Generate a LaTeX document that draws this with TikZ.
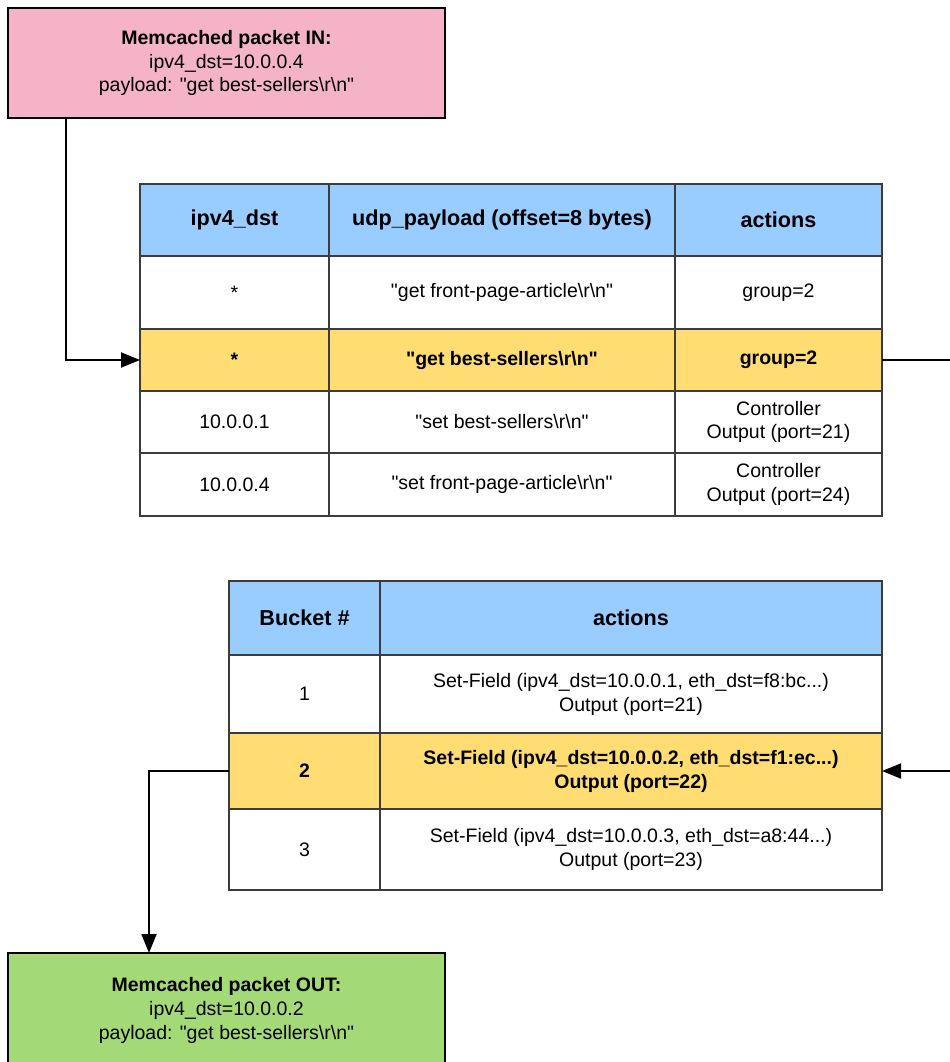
\documentclass[tikz,border=0pt]{standalone}
\usepackage{fontspec}
\newfontfamily\arialf{Liberation Sans}
\usetikzlibrary{arrows.meta,positioning,calc}
\definecolor{inpink}{RGB}{244,179,198}
\definecolor{outgreen}{RGB}{163,217,119}
\definecolor{headblue}{RGB}{153,204,255}
\definecolor{hitgold}{RGB}{255,221,115}
\definecolor{gridgray}{RGB}{60,60,60}
\newcommand{\crlf}{\textbackslash r\textbackslash n}

\begin{document}
\begin{tikzpicture}[font=\arialf\fontsize{11.1}{13.6}\selectfont,
  pkt/.style={draw, line width=1.1pt, align=center, minimum width=8.74cm, outer sep=0pt},
  cell/.style={draw=gridgray, line width=0.6pt, align=center, inner sep=0pt, outer sep=0pt},
  hd/.style={cell, fill=headblue, font=\arialf\fontsize{12.3}{14}\selectfont\bfseries},
  hit/.style={cell, fill=hitgold, font=\arialf\fontsize{11.1}{13.6}\selectfont\bfseries},
  colA/.style={minimum width=3.78cm}, colB/.style={minimum width=6.92cm}, colC/.style={minimum width=4.14cm},
  colD/.style={minimum width=3.02cm}, colE/.style={minimum width=10.04cm},
  arr/.style={-{Triangle[length=0.38cm,width=0.3cm]}, line width=1.1pt}]
\useasboundingbox (0,0) rectangle (18.98,-21.24);

% packets
\node[pkt, fill=inpink, minimum height=2.2cm, anchor=north west] (in) at (0.16,-0.16)
  {\textbf{Memcached packet IN:}\\ipv4\_dst=10.0.0.4\\payload: "get best-sellers\crlf"};
\node[pkt, fill=outgreen, minimum height=2.3cm, anchor=north west] (out) at (0.16,-19.06)
  {\textbf{Memcached packet OUT:}\\ipv4\_dst=10.0.0.2\\payload: "get best-sellers\crlf"};

% flow table
\node[hd, colA, minimum height=1.44cm, anchor=north west] (h1) at (2.8,-3.68) {ipv4\_dst};
\node[hd, colB, minimum height=1.44cm, right=0pt of h1] (h2) {udp\_payload (offset=8 bytes)};
\node[hd, colC, minimum height=1.44cm, right=0pt of h2] (h3) {actions};
\node[cell, colA, minimum height=1.46cm, below=0pt of h1] (r1c1) {*};
\node[cell, colB, minimum height=1.46cm, below=0pt of h2] (r1c2) {"get front-page-article\crlf"};
\node[cell, colC, minimum height=1.46cm, below=0pt of h3] (r1c3) {group=2};
\node[hit, colA, minimum height=1.24cm, below=0pt of r1c1] (r2c1) {*};
\node[hit, colB, minimum height=1.24cm, below=0pt of r1c2] (r2c2) {"get best-sellers\crlf"};
\node[hit, colC, minimum height=1.24cm, below=0pt of r1c3] (r2c3) {group=2};
\node[cell, colA, minimum height=1.24cm, below=0pt of r2c1] (r3c1) {10.0.0.1};
\node[cell, colB, minimum height=1.24cm, below=0pt of r2c2] (r3c2) {"set best-sellers\crlf"};
\node[cell, colC, minimum height=1.24cm, below=0pt of r2c3] (r3c3) {Controller\\Output (port=21)};
\node[cell, colA, minimum height=1.26cm, below=0pt of r3c1] (r4c1) {10.0.0.4};
\node[cell, colB, minimum height=1.26cm, below=0pt of r3c2] (r4c2) {"set front-page-article\crlf"};
\node[cell, colC, minimum height=1.26cm, below=0pt of r3c3] (r4c3) {Controller\\Output (port=24)};

% group table
\node[hd, colD, minimum height=1.48cm, anchor=north west] (g1) at (4.58,-11.62) {Bucket \#};
\node[hd, colE, minimum height=1.48cm, right=0pt of g1] (g2) {actions};
\node[cell, colD, minimum height=1.56cm, below=0pt of g1] (b1c1) {1};
\node[cell, colE, minimum height=1.56cm, below=0pt of g2] (b1c2) {Set-Field (ipv4\_dst=10.0.0.1, eth\_dst=f8:bc...)\\Output (port=21)};
\node[hit, colD, minimum height=1.52cm, below=0pt of b1c1] (b2c1) {2};
\node[hit, colE, minimum height=1.52cm, below=0pt of b1c2] (b2c2) {Set-Field (ipv4\_dst=10.0.0.2, eth\_dst=f1:ec...)\\Output (port=22)};
\node[cell, colD, minimum height=1.62cm, below=0pt of b2c1] (b3c1) {3};
\node[cell, colE, minimum height=1.62cm, below=0pt of b2c2] (b3c2) {Set-Field (ipv4\_dst=10.0.0.3, eth\_dst=a8:44...)\\Output (port=23)};

% connectors
\draw[arr] ($(in.south west)+(1.16,0)$) |- (r2c1.west);
\draw[arr] (r2c3.east) -- ++(1.4,0) |- (b2c2.east);
\draw[arr] (b2c1.west) -| ($(out.north west)+(2.82,0)$);
\end{tikzpicture}
\end{document}
